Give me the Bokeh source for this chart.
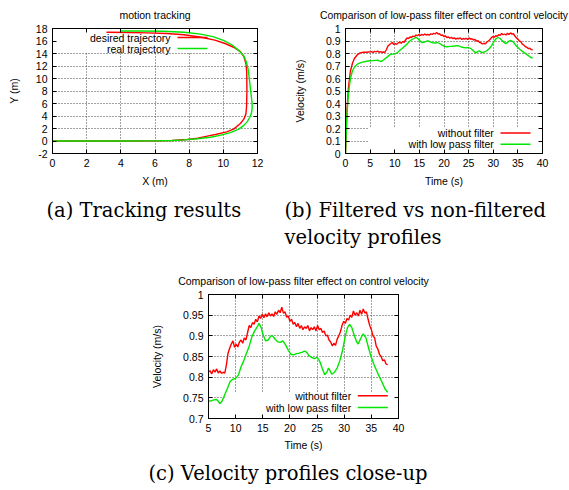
from bokeh.plotting import figure
from bokeh.models import Range1d, FixedTicker, LinearAxis, BoxAnnotation, Label, Title
from bokeh.layouts import column, row
from bokeh.embed import file_html
from bokeh.resources import INLINE

# ---------------- data ----------------
# (a) motion tracking: desired vs real trajectory (metres)
desired_x = [0, 2, 4, 6, 7, 7.9, 8.5, 9.06, 9.6, 10.2, 10.6, 11.0, 11.2, 11.32, 11.36, 11.38, 11.37,
             11.33, 11.2, 11.0, 10.6, 10.1, 9.5, 8.7, 7.7, 6.7, 5.5, 4.5, 3.16]
desired_y = [0, 0, 0, 0.02, 0.08, 0.24, 0.45, 0.77, 1.08, 1.46, 1.9, 2.8, 3.5, 4.3, 5.5, 8, 11,
             12.3, 13.5, 14.3, 15.0, 15.6, 16.15, 16.6, 17.0, 17.2, 17.3, 17.35, 17.4]
real_x = [0, 2, 4, 6, 7, 7.7, 8.5, 9.25, 9.8, 10.42, 10.9, 11.2, 11.4, 11.55, 11.65, 11.69, 11.68,
          11.6, 11.52, 11.45, 11.35, 11.2, 10.9, 10.5, 10.0, 9.4, 8.67, 7.7, 6.5, 5.0, 4.0]
real_y = [0, 0, 0, 0.02, 0.08, 0.18, 0.35, 0.6, 0.9, 1.35, 1.9, 2.5, 3.1, 3.8, 4.5, 5.3, 6.2,
          8, 10, 11.5, 12.6, 13.6, 14.5, 15.4, 16.1, 16.7, 17.1, 17.4, 17.55, 17.6, 17.6]

# (b)/(c) velocity without filter (m/s)
raw_t = [0.0, 0.3, 0.6, 1.0, 1.4, 1.8, 2.4, 3.0, 3.6, 4.2, 4.7,
         5.0, 5.3, 5.6, 5.9, 6.2, 6.5, 6.8, 7.1, 7.4, 7.7,
         8.0, 8.3, 8.6, 8.9, 9.2, 9.5, 9.8, 10.1, 10.4, 10.7,
         11.0, 11.3, 11.6, 11.9, 12.2, 12.5, 12.8, 13.1, 13.4, 13.7,
         14.0, 14.3, 14.6, 14.9, 15.2, 15.5, 15.8, 16.1, 16.4, 16.7,
         17.0, 17.3, 17.6, 17.9, 18.2, 18.5, 18.8, 19.1, 19.4, 19.7,
         20.0, 20.3, 20.6, 20.9, 21.2, 21.5, 21.8, 22.1, 22.4, 22.7,
         23.0, 23.3, 23.6, 23.9, 24.2, 24.5, 24.8, 25.1, 25.4, 25.7,
         26.0, 26.3, 26.6, 26.9, 27.2, 27.5, 27.8, 28.1, 28.4, 28.7,
         29.0, 29.3, 29.6, 29.9, 30.2, 30.5, 30.8, 31.1, 31.4, 31.7,
         32.0, 32.3, 32.6, 32.9, 33.2, 33.5, 33.8, 34.1, 34.4, 34.7,
         35.0, 35.3, 35.6, 35.9, 36.2, 36.5, 36.8, 37.1, 37.4, 37.7, 38.0]
raw_v = [0.0, 0.35, 0.53, 0.66, 0.72, 0.76, 0.79, 0.805, 0.81, 0.81, 0.812,
         0.813, 0.815, 0.808, 0.818, 0.812, 0.820, 0.810, 0.815, 0.809, 0.812,
         0.810, 0.830, 0.858, 0.870, 0.880, 0.888, 0.872, 0.880, 0.873, 0.885,
         0.890, 0.882, 0.895, 0.890, 0.908, 0.925, 0.920, 0.932, 0.928, 0.940,
         0.934, 0.948, 0.942, 0.952, 0.944, 0.953, 0.946, 0.956, 0.948, 0.953,
         0.947, 0.958, 0.952, 0.962, 0.956, 0.969, 0.955, 0.958, 0.945, 0.948,
         0.935, 0.940, 0.928, 0.932, 0.922, 0.930, 0.918, 0.925, 0.915, 0.922,
         0.918, 0.925, 0.912, 0.920, 0.915, 0.922, 0.912, 0.925, 0.915, 0.918,
         0.908, 0.912, 0.900, 0.902, 0.890, 0.885, 0.876, 0.882, 0.877, 0.892,
         0.900, 0.910, 0.925, 0.935, 0.930, 0.942, 0.938, 0.950, 0.945, 0.960,
         0.950, 0.956, 0.948, 0.962, 0.952, 0.965, 0.955, 0.958, 0.940, 0.925,
         0.915, 0.900, 0.895, 0.875, 0.868, 0.855, 0.850, 0.840, 0.842, 0.832, 0.830]

# velocity with low pass filter (m/s)
filt_t = [0.0, 0.3, 0.6, 1.0, 1.4, 1.8, 2.4, 3.0, 3.7, 4.3,
          5.0, 5.5, 6.0, 6.5, 6.8, 7.1, 7.4, 7.7, 8.0, 8.5,
          9.0, 9.5, 10.0, 10.5, 11.0, 11.5, 12.0, 12.5, 13.0, 13.5,
          14.0, 14.3, 14.7, 15.0, 15.5, 16.0, 16.5, 16.8, 17.2, 17.7,
          18.2, 18.7, 19.2, 19.7, 20.2, 20.7, 21.2, 21.7, 22.2, 22.7,
          23.1, 23.5, 24.0, 24.5, 25.0, 25.5, 26.0, 26.4, 26.8, 27.1,
          27.4, 27.7, 28.2, 28.7, 29.2, 29.7, 30.2, 30.6, 31.0, 31.4,
          31.8, 32.3, 32.6, 33.0, 33.5, 34.0, 34.5, 35.0, 35.5, 36.0,
          36.5, 37.0, 37.5, 38.0]
filt_v = [0.0, 0.32, 0.48, 0.60, 0.66, 0.69, 0.715, 0.725, 0.733, 0.738,
          0.742, 0.743, 0.745, 0.746, 0.742, 0.736, 0.740, 0.748, 0.758, 0.773,
          0.790, 0.795, 0.797, 0.805, 0.825, 0.840, 0.858, 0.875, 0.898, 0.912,
          0.922, 0.930, 0.920, 0.905, 0.888, 0.890, 0.900, 0.900, 0.893, 0.886,
          0.884, 0.888, 0.878, 0.865, 0.855, 0.854, 0.857, 0.858, 0.860, 0.863,
          0.860, 0.852, 0.848, 0.845, 0.848, 0.838, 0.820, 0.806, 0.812, 0.822,
          0.815, 0.807, 0.812, 0.822, 0.840, 0.865, 0.900, 0.920, 0.928, 0.920,
          0.903, 0.885, 0.880, 0.893, 0.905, 0.895, 0.870, 0.848, 0.830, 0.815,
          0.800, 0.787, 0.772, 0.763]

# ticks
a_xticks = [0, 2, 4, 6, 8, 10, 12]
a_yticks = [-2, 0, 2, 4, 6, 8, 10, 12, 14, 16, 18]
b_xticks = [0, 5, 10, 15, 20, 25, 30, 35, 40]
b_yticks = [0, 0.1, 0.2, 0.3, 0.4, 0.5, 0.6, 0.7, 0.8, 0.9, 1]
b_ylabels = {0: "0", 0.1: "0.1", 0.2: "0.2", 0.3: "0.3", 0.4: "0.4", 0.5: "0.5",
             0.6: "0.6", 0.7: "0.7", 0.8: "0.8", 0.9: "0.9", 1: "1"}
c_xticks = [5, 10, 15, 20, 25, 30, 35, 40]
c_yticks = [0.7, 0.75, 0.8, 0.85, 0.9, 0.95, 1]
c_ylabels = {0.7: "0.7", 0.75: "0.75", 0.8: "0.8", 0.85: "0.85", 0.9: "0.9", 0.95: "0.95", 1: "1"}

# captions
cap_a = "(a) Tracking results"
cap_b = "(b) Filtered vs non-filtered\nvelocity profiles"
cap_c = "(c) Velocity profiles close-up"

# ---------------- style ----------------
FONT = "Liberation Sans"
FS = "10.5px"
SERIF = "DejaVu Serif"
CAP_FS = "19.5px"
RED = "#ff0000"
GREEN = "#00e600"
LW = 1.4


def make_fig(w, h, mbl, mbr, mbt, mbb, xr, yr, xt, yt, title, xlabel, ylabel,
             xlab=None, ylab=None, ylabel_standoff=15, xlabel_standoff=5, title_fs=FS):
    p = figure(width=w, height=h, min_border_left=mbl, min_border_right=mbr,
               min_border_top=mbt, min_border_bottom=mbb,
               x_range=Range1d(xr[0], xr[1]), y_range=Range1d(yr[0], yr[1]),
               output_backend="svg", toolbar_location=None, title=title)
    p.title.align = "center"
    p.title.vertical_align = "middle"
    p.title.text_font = FONT
    p.title.text_font_size = title_fs
    p.title.text_font_style = "normal"
    p.title.text_color = "black"
    p.title.standoff = 14
    p.outline_line_color = "black"
    p.outline_line_width = 1
    p.background_fill_color = "white"
    p.border_fill_color = "white"

    xa = p.xaxis[0]
    ya = p.yaxis[0]
    xa.ticker = FixedTicker(ticks=xt)
    ya.ticker = FixedTicker(ticks=yt)
    if xlab:
        xa.major_label_overrides = xlab
    if ylab:
        ya.major_label_overrides = ylab
    for ax, lab, so in ((xa, xlabel, xlabel_standoff), (ya, ylabel, ylabel_standoff)):
        ax.axis_label = lab
        ax.axis_label_text_font = FONT
        ax.axis_label_text_font_size = FS
        ax.axis_label_text_font_style = "normal"
        ax.axis_label_text_color = "black"
        ax.axis_label_standoff = so
        ax.major_label_text_font = FONT
        ax.major_label_text_font_size = FS
        ax.major_label_text_color = "black"
        ax.major_tick_in = 4
        ax.major_tick_out = 0
        ax.minor_tick_line_color = None
        ax.axis_line_color = "black"
        ax.major_tick_line_color = "black"
        ax.major_label_standoff = 5
    # mirrored ticks on right and top (no labels)
    for loc, ticks in (("right", yt), ("above", xt)):
        m = LinearAxis(ticker=FixedTicker(ticks=ticks),
                       major_label_overrides={t: "" for t in ticks},
                       major_label_text_font_size="1px",
                       major_label_standoff=0, major_tick_in=4, major_tick_out=0,
                       minor_tick_line_color=None, axis_line_color="black",
                       major_tick_line_color="black")
        p.add_layout(m, loc)

    p.xgrid.ticker = FixedTicker(ticks=xt)
    p.ygrid.ticker = FixedTicker(ticks=yt)
    p.grid.grid_line_color = "#444444"
    p.grid.grid_line_dash = "1 2"
    p.grid.grid_line_width = 1
    return p


def add_legend(p, entries, text_right, s_left, s_right, box):
    bl, br, bb, bt = box
    p.add_layout(BoxAnnotation(left=bl, right=br, bottom=bb, top=bt,
                               left_units="screen", right_units="screen",
                               bottom_units="screen", top_units="screen",
                               fill_color="white", fill_alpha=1.0, line_color=None,
                               level="underlay"))
    for text, color, y in entries:
        p.add_layout(Label(x=text_right, y=y, x_units="screen", y_units="screen", text=text,
                           text_align="right", text_baseline="middle", text_font=FONT,
                           text_font_size=FS, text_color="black"))
        p.add_layout(BoxAnnotation(left=s_left, right=s_right, bottom=y - 0.75, top=y + 0.75,
                                   left_units="screen", right_units="screen",
                                   bottom_units="screen", top_units="screen",
                                   fill_color=color, fill_alpha=1.0, line_color=None))


def add_caption(p, text, offset, standoff):
    p.add_layout(Title(text=text, align="left", offset=offset, standoff=standoff,
                       text_font=SERIF, text_font_size=CAP_FS, text_font_style="normal",
                       text_color="black", text_line_height=1.2), "below")


# ---------------- (a) ----------------
pa = make_fig(282, 262, 52, 25, 28, 109, (0, 12), (-2, 18), a_xticks, a_yticks,
              "motion tracking", "X (m)", "Y (m)", ylab={-2: "-2"}, ylabel_standoff=13)
add_legend(pa, [("desired trajectory", RED, 116), ("real trajectory", GREEN, 105)],
           118, 125, 155, (0, 205, 101.5, 125))
pa.line(desired_x, desired_y, line_color=RED, line_width=LW)
pa.line(real_x, real_y, line_color=GREEN, line_width=LW)
add_caption(pa, cap_a, -6, 14)

# ---------------- (b) ----------------
pb = make_fig(287, 262, 63, 27, 27, 109, (0, 40), (0, 1), b_xticks, b_yticks,
              "Comparison of low-pass filter effect on control velocity",
              "Time (s)", "Velocity (m/s)", ylab=b_ylabels, ylabel_standoff=17,
              title_fs="10.4px")
add_legend(pb, [("without filter", RED, 20.6), ("with low pass filter", GREEN, 9.3)],
           148.3, 155, 185, (23, 197, 0, 25.5))
pb.line(raw_t, raw_v, line_color=RED, line_width=LW)
pb.line(filt_t, filt_v, line_color=GREEN, line_width=LW)
add_caption(pb, cap_b, -61, 14)

# ---------------- (c) ----------------
pc = make_fig(569, 228, 208, 171, 32, 69, (5, 40), (0.7, 1), c_xticks, c_yticks,
              "Comparison of low-pass filter effect on control velocity",
              "Time (s)", "Velocity (m/s)", ylab=c_ylabels, ylabel_standoff=17, xlabel_standoff=4)
add_legend(pc, [("without filter", RED, 22.7), ("with low pass filter", GREEN, 11)],
           142.7, 149.3, 179.3, (17, 190, 0, 26))
pc.line(raw_t, raw_v, line_color=RED, line_width=LW)
pc.line(filt_t, filt_v, line_color=GREEN, line_width=LW)
add_caption(pc, cap_c, -60, 12)

layout = column(row(pa, pb), pc)

open("out.html", "w").write(file_html(layout, INLINE))
